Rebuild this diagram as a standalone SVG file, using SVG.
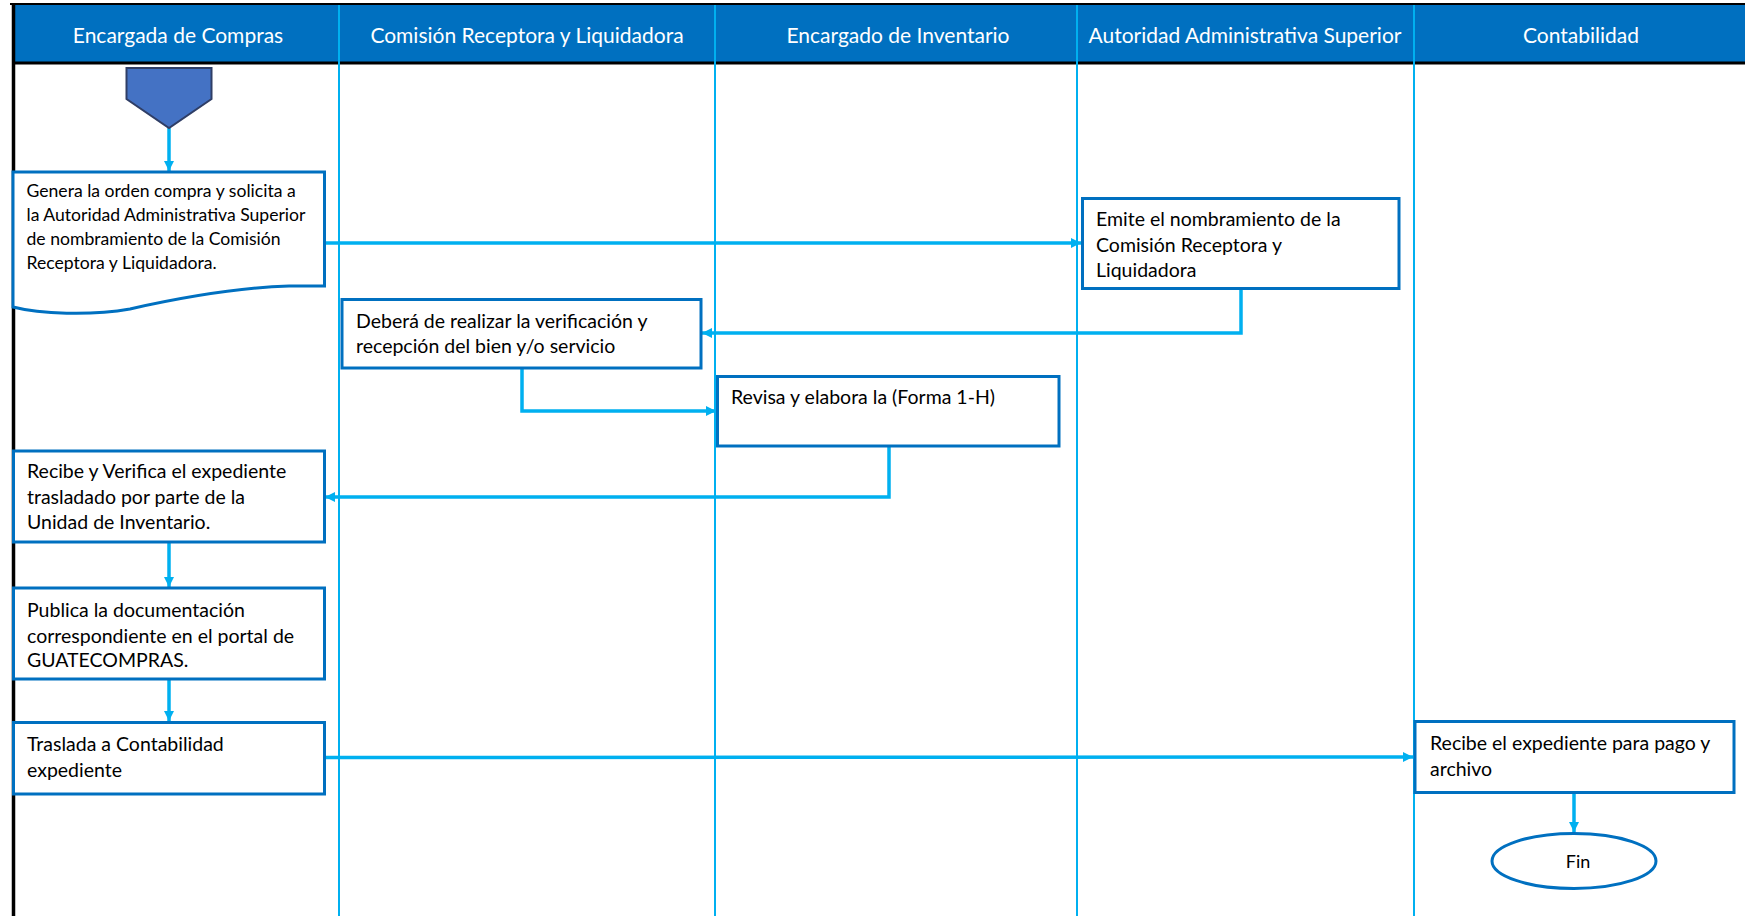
<svg xmlns="http://www.w3.org/2000/svg" width="1745" height="916" viewBox="0 0 1745 916">
<style>
.hdr{font-family:Lato,"Open Sans",sans-serif;font-size:21px;fill:#ffffff;text-anchor:middle;dominant-baseline:central}
.lane{stroke:#00B0F0;stroke-width:2;fill:none}
.box{fill:#ffffff;stroke:#0070C0;stroke-width:3}
.t{font-family:Lato,"Open Sans",sans-serif;font-size:19.5px;fill:#000000;dominant-baseline:central}
.ts{font-family:Lato,"Open Sans",sans-serif;font-size:17.6px;fill:#000000;dominant-baseline:central}
.con{stroke:#00B0F0;stroke-width:3.5;fill:none}
</style>
<defs>
<marker id="ah" viewBox="0 0 10 10" refX="10" refY="5" markerWidth="11" markerHeight="10" markerUnits="userSpaceOnUse" orient="auto">
<path d="M0,0 L10,5 L0,10 Z" fill="#00B0F0"/>
</marker>
</defs>
<rect x="0" y="0" width="1745" height="916" fill="#ffffff"/>
<g id="frame">
<rect x="15" y="5" width="1730" height="58" fill="#0070C0"/>
<line x1="10" y1="4" x2="1745" y2="4" stroke="#000" stroke-width="2"/>
<line x1="14" y1="63" x2="1745" y2="63" stroke="#000" stroke-width="3"/>
<line x1="13.5" y1="3" x2="13.5" y2="916" stroke="#000" stroke-width="3.5"/>
<line class="lane" x1="339" y1="5" x2="339" y2="916"/>
<line class="lane" x1="715" y1="5" x2="715" y2="916"/>
<line class="lane" x1="1077" y1="5" x2="1077" y2="916"/>
<line class="lane" x1="1414" y1="5" x2="1414" y2="916"/>
<text class="hdr" x="178" y="34">Encargada de Compras</text>
<text class="hdr" x="527" y="34">Comisión Receptora y Liquidadora</text>
<text class="hdr" x="898" y="34">Encargado de Inventario</text>
<text class="hdr" x="1245" y="34">Autoridad Administrativa Superior</text>
<text class="hdr" x="1581" y="34">Contabilidad</text>
</g>
<g id="connectors">
<path class="con" d="M169,128 L169,171" marker-end="url(#ah)"/>
<path class="con" d="M325,243 L1081,243" marker-end="url(#ah)"/>
<path class="con" d="M1241,289 L1241,333 L702,333" marker-end="url(#ah)"/>
<path class="con" d="M522,368 L522,411 L716,411" marker-end="url(#ah)"/>
<path class="con" d="M889,446 L889,497 L325,497" marker-end="url(#ah)"/>
<path class="con" d="M169,542 L169,587" marker-end="url(#ah)"/>
<path class="con" d="M169,679 L169,721" marker-end="url(#ah)"/>
<path class="con" d="M325,757.5 L1413,757" marker-end="url(#ah)"/>
<path class="con" d="M1574,793 L1574,832" marker-end="url(#ah)"/>
</g>
<g id="start">
<path d="M126.5,68 L211.5,68 L211.5,99 L169,128 L126.5,99 Z" fill="#4472C4" stroke="#2F3E66" stroke-width="2"/>
</g>
<g id="n1">
<path class="box" d="M13,172 L324.5,172 L324.5,286 L289,286 C230,288 170,300 130,309 C90,316 40,314 13,307 Z"/>
<text class="ts" x="26.5" y="190">Genera la orden compra y solicita a</text>
<text class="ts" x="26.5" y="214">la Autoridad Administrativa Superior</text>
<text class="ts" x="26.5" y="238">de nombramiento de la Comisión</text>
<text class="ts" x="26.5" y="262">Receptora y Liquidadora.</text>
</g>
<g id="n2">
<rect class="box" x="1082.5" y="198.5" width="316.5" height="90"/>
<text class="t" x="1096" y="218">Emite el nombramiento de la</text>
<text class="t" x="1096" y="244">Comisión Receptora y</text>
<text class="t" x="1096" y="269">Liquidadora</text>
</g>
<g id="n3">
<rect class="box" x="342" y="299.5" width="359" height="68.5"/>
<text class="t" x="356" y="320">Deberá de realizar la verificación y</text>
<text class="t" x="356" y="345">recepción del bien y/o servicio</text>
</g>
<g id="n4">
<rect class="box" x="717.5" y="376.5" width="341.5" height="69.5"/>
<text class="t" x="731" y="396">Revisa y elabora la (Forma 1-H)</text>
</g>
<g id="n5">
<rect class="box" x="13.5" y="451" width="311" height="91"/>
<text class="t" x="27" y="470">Recibe y Verifica el expediente</text>
<text class="t" x="27" y="496">trasladado por parte de la</text>
<text class="t" x="27" y="521">Unidad de Inventario.</text>
</g>
<g id="n6">
<rect class="box" x="13.5" y="588" width="311" height="91"/>
<text class="t" x="27" y="609">Publica la documentación</text>
<text class="t" x="27" y="635">correspondiente en el portal de</text>
<text class="t" x="27" y="659">GUATECOMPRAS.</text>
</g>
<g id="n7">
<rect class="box" x="13.5" y="722.5" width="311" height="71.5"/>
<text class="t" x="27" y="743">Traslada a Contabilidad</text>
<text class="t" x="27" y="769">expediente</text>
</g>
<g id="n8">
<rect class="box" x="1415" y="721.5" width="319" height="71"/>
<text class="t" x="1430" y="742">Recibe el expediente para pago y</text>
<text class="t" x="1430" y="768">archivo</text>
</g>
<g id="fin">
<ellipse class="box" cx="1574" cy="861" rx="82" ry="27.5"/>
<text class="t" x="1578" y="861" text-anchor="middle" style="font-size:18px">Fin</text>
</g>
</svg>
